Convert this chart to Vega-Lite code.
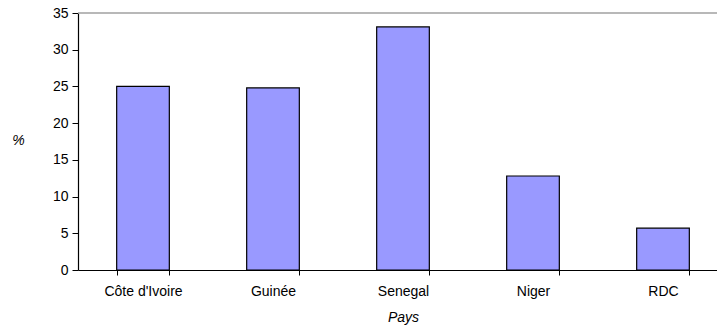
{
  "$schema": "https://vega.github.io/schema/vega-lite/v6.json",
  "width": 650,
  "height": 257,
  "autosize": {"type": "none"},
  "padding": {"left": 78, "top": 13, "right": -11, "bottom": 63},
  "background": "white",
  "config": {
    "view": {"stroke": null},
    "font": "Liberation Sans",
    "axis": {"domainColor": "black", "tickColor": "black", "labelColor": "black", "titleColor": "black", "labelFont": "Liberation Sans", "titleFont": "Liberation Sans", "labelFontSize": 14, "titleFontSize": 14, "titleFontWeight": "normal", "titleFontStyle": "italic", "grid": false, "labelOverlap": false}
  },
  "layer": [
    {
      "data": {
        "values": [
          {"pays": "Côte d'Ivoire", "pct": 25.0},
          {"pays": "Guinée", "pct": 24.8},
          {"pays": "Senegal", "pct": 33.1},
          {"pays": "Niger", "pct": 12.8},
          {"pays": "RDC", "pct": 5.7}
        ]
      },
      "mark": {"type": "bar", "fill": "#9999ff", "stroke": "black", "strokeWidth": 1.2},
      "encoding": {
        "x": {
          "field": "pays", "type": "nominal", "sort": null,
          "scale": {"paddingInner": 0.595, "paddingOuter": 0.2975},
          "axis": {"title": "Pays", "labelAngle": 0, "tickBand": "extent", "tickSize": 5, "labelPadding": 9, "titlePadding": 12, "domainWidth": 1.2}
        },
        "y": {
          "field": "pct", "type": "quantitative",
          "scale": {"domain": [0, 35], "nice": false},
          "axis": {"title": "%", "titleAngle": 0, "titleX": -60, "titleY": 127, "titleAlign": "center", "titleBaseline": "middle", "values": [0, 5, 10, 15, 20, 25, 30, 35], "tickSize": 6, "labelPadding": 4, "domainWidth": 1.2, "labelOverlap": false}
        }
      }
    },
    {
      "data": {"values": [{"top": 35}]},
      "mark": {"type": "rule", "color": "#a0a0a0", "strokeWidth": 1.5},
      "encoding": {
        "y": {
          "field": "top", "type": "quantitative",
          "scale": {"domain": [0, 35], "nice": false},
          "axis": {"title": "%", "titleAngle": 0, "titleX": -60, "titleY": 127, "titleAlign": "center", "titleBaseline": "middle", "values": [0, 5, 10, 15, 20, 25, 30, 35], "tickSize": 6, "labelPadding": 4, "domainWidth": 1.2, "labelOverlap": false}
        }
      }
    }
  ]
}
